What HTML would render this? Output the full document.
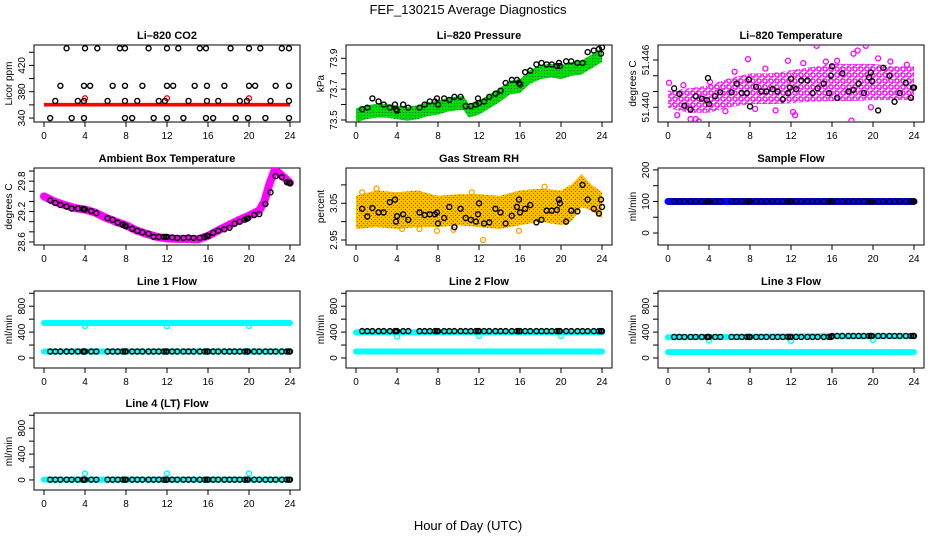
<!DOCTYPE html>
<html><head><meta charset="utf-8"><style>
html,body{margin:0;padding:0;background:#fff}
svg{display:block;font-family:"Liberation Sans",sans-serif}
</style></head><body>
<svg id="c" width="936" height="540" viewBox="0 0 936 540" xmlns="http://www.w3.org/2000/svg">
<defs>
<pattern id="pGreen" width="3" height="3" patternUnits="userSpaceOnUse"><rect width="3" height="3" fill="#00dd00"/><rect x="1" y="1" width="1" height="1" fill="#064"/></pattern>
<pattern id="pMag" width="6" height="6" patternUnits="userSpaceOnUse"><circle cx="3" cy="3" r="2" fill="none" stroke="#ff00ff" stroke-width="1.3"/><circle cx="0" cy="0" r="2" fill="none" stroke="#ff00ff" stroke-width="1.3"/><circle cx="6" cy="6" r="2" fill="none" stroke="#ff00ff" stroke-width="1.3"/></pattern>
<pattern id="pRH" width="4" height="4" patternUnits="userSpaceOnUse"><rect width="4" height="4" fill="#ffc000"/><rect x="1" y="1" width="1" height="1" fill="#ff2000"/><rect x="3" y="3" width="1" height="1" fill="#ff2000"/></pattern>
</defs>
<text x="468" y="14" text-anchor="middle" font-size="13">FEF_130215  Average Diagnostics</text>
<text x="468" y="530" text-anchor="middle" font-size="13">Hour of Day (UTC)</text>
</svg>
<script>
// ---- shared data ----
const blackHours=[0.6,1.1,1.6,2.2,2.7,3.3,3.8,3.9,4.0,4.6,5.1,6.2,6.7,7.2,7.7,7.9,8.0,8.6,9.1,9.6,10.2,10.7,11.2,11.7,11.9,12.0,12.5,13.0,13.6,14.1,14.6,15.2,15.7,15.9,16.0,16.5,17.0,17.6,18.1,18.6,19.1,19.6,19.8,19.9,20.5,21.0,21.6,22.1,22.6,23.2,23.7,23.9,24.0];
const xTicks=[0,4,8,12,16,20,24];
// CO2
const co2BlackHours=[2.2,4.0,5.2,7.4,7.9,10.2,12.0,13.1,15.2,15.8,18.2,20.0,21.1,23.2,23.9, 1.6,3.9,4.5,6.7,7.9,9.6,12.0,12.6,14.7,15.9,17.6,20.0,20.6,22.6,23.9, 1.1,3.3,3.9,6.2,7.9,9.1,11.2,11.8,14.1,15.9,17.0,19.1,19.8,22.1,23.9, 0.6,2.7,3.9,7.9,8.6,10.7,12.0,13.6,15.8,16.5,18.7,19.9,21.6,23.9];
const co2BlackValues=[446,446,446,446,446,446,446,446,446,446,446,446,446,446,446, 389,389,389,389,389,389,389,389,389,389,389,389,389,389,389, 366,366,366,366,366,366,366,366,366,366,366,366,366,366,366, 340,340,340,340,340,340,340,340,340,340,340,340,340,340];
const co2BandHours=[0,24];
const co2BandLow=[357.5,357.5];
const co2BandHigh=[363,363];
const co2RedHours=[4,12,20];
const co2RedValues=[370,370,370];
// Pressure
const presBandHours=[0,1,2,3,4,5,6,7,8,9,10,10.5,11,12,13,14,15,16,17,18,19,20,21,22,23,24];
const presBandCenter=[73.53,73.55,73.56,73.56,73.55,73.54,73.55,73.57,73.58,73.6,73.61,73.61,73.56,73.58,73.62,73.66,73.71,73.72,73.78,73.81,73.82,73.81,73.83,73.84,73.88,73.92];
const presBlack=[73.57,73.58,73.64,73.62,73.6,73.58,73.6,73.57,73.56,73.6,73.58,73.58,73.6,73.62,73.62,73.64,73.6,73.64,73.63,73.65,73.65,73.59,73.59,73.6,73.64,73.61,73.62,73.65,73.67,73.69,73.74,73.76,73.76,73.74,73.73,73.81,73.82,73.86,73.87,73.86,73.86,73.85,73.87,73.85,73.88,73.88,73.87,73.87,73.94,73.95,73.96,73.93,73.97];
// Li-820 temperature
const ltBandHours=[0,2,4,6,8,10,12,14,16,18,20,22,24];
const ltBandLow=[51.4399,51.4393,51.4393,51.4400,51.4404,51.4404,51.4405,51.4407,51.4408,51.4408,51.4409,51.4409,51.4409];
const ltBandHigh=[51.4421,51.4424,51.4428,51.4437,51.4443,51.4443,51.4447,51.4451,51.4455,51.4455,51.4455,51.4452,51.4452];
const ltOutHours=[0.1,1.5,2.2,3.0,4.1,6.5,7.8,9.5,11.7,12.2,13.2,14.5,15.4,16.5,18.1,18.5,19.3,20.5,21.7,23.3,17.9,2.7,10.5,12.4,0.9,5.6,8.5,19.8];
const ltOutValues=[51.4431,51.4428,51.4385,51.4382,51.4432,51.4445,51.4461,51.4449,51.4459,51.4394,51.4456,51.4478,51.4458,51.4459,51.4468,51.4472,51.4478,51.4462,51.4458,51.4454,51.4383,51.4385,51.4396,51.4390,51.4390,51.4395,51.4398,51.4400];
const ltBlack=[51.4424,51.4417,51.4402,51.4397,51.4414,51.4411,51.4409,51.4437,51.4404,51.4414,51.4419,51.4419,51.4430,51.4418,51.4418,51.4435,51.4401,51.4426,51.4420,51.4420,51.4423,51.4420,51.4410,51.4418,51.4425,51.4436,51.4423,51.4434,51.4434,51.4418,51.4424,51.4430,51.4418,51.4440,51.4452,51.4412,51.4443,51.4420,51.4422,51.4430,51.4418,51.4438,51.4444,51.4433,51.4396,51.4450,51.4440,51.4407,51.4418,51.4431,51.4412,51.4425,51.4425];
// Ambient box temperature
const ambHours=[0,1,2,3,4,5,6,7,8,9,10,11,12,13,14,15,16,17,18,19,20,21,21.5,22,22.5,23,24];
const ambValues=[29.50,29.40,29.33,29.27,29.24,29.18,29.08,29.0,28.93,28.83,28.76,28.70,28.67,28.66,28.66,28.65,28.72,28.83,28.93,29.03,29.12,29.22,29.4,29.75,30.02,29.95,29.77];
const ambBlack=[29.42,29.37,29.33,29.3,29.26,29.26,29.25,29.25,29.24,29.21,29.17,29.07,29.04,28.98,28.94,28.92,28.91,28.86,28.82,28.79,28.76,28.7,28.7,28.7,28.7,28.7,28.69,28.68,28.68,28.69,28.68,28.68,28.7,28.72,28.72,28.78,28.82,28.85,28.88,28.96,29.0,29.04,29.06,29.07,29.13,29.15,29.35,29.58,29.9,29.88,29.78,29.77,29.76];
// Gas stream RH
const rhBandHours=[0,2,4,6,8,10,12,14,16,18,20,21,22,23,24];
const rhBandLow=[2.98,2.985,2.98,2.985,2.985,2.99,2.985,2.98,2.99,3.0,2.99,3.0,3.04,3.03,3.01];
const rhBandHigh=[3.07,3.085,3.08,3.085,3.07,3.075,3.075,3.07,3.085,3.09,3.085,3.1,3.13,3.1,3.08];
const rhBlack=[3.035,3.014,3.037,3.025,3.025,3.053,3.06,3.0,3.015,3.02,3.005,3.025,3.018,3.02,3.02,3.025,2.995,3.01,3.04,2.985,3.035,3.01,3.005,3.0,3.02,3.05,2.995,2.998,3.035,3.025,2.995,3.016,3.04,3.06,3.025,3.035,3.045,2.998,3.005,3.03,3.03,3.032,3.06,3.05,3.0,3.03,3.028,3.1,3.06,3.035,3.022,3.06,3.04];
const rhOutHours=[0.6,2.0,4.5,6.2,7.9,9.5,11.3,12.4,15.9,18.4,20.4];
const rhOutValues=[3.08,3.09,2.98,2.98,2.975,2.978,3.08,2.95,2.975,3.095,3.0];
// Flows
const sampleFlow=100;
const sampleBlack=100;
const l1Cyan=[540,100];
const l1Black=100;
const l2Cyan=[395,100];
const l2Black=415;
const l3CyanHours=[0,16,24];
const l3CyanUpper=[320,335,340];
const l3CyanLower=[90,90,90];
const l3BlackHours=[0,16,24];
const l3BlackVals=[325,335,340];
const l4Cyan=[5];
const l4Black=5;
const dipHours=[4,12,20];
const l1Dips=[495,490,495];
const l2Dips=[330,340,340];
const l3Dips=[270,265,280];
const l4Dips=[100,100,100];

// ---- layout ----
const svg=document.getElementById('c');
const NS='http://www.w3.org/2000/svg';
const COLX=[34,346,658], ROWY=[45,168,291,413], PW=266, PH=77;
function el(tag,attrs,parent){const e=document.createElementNS(NS,tag);for(const k in attrs)e.setAttribute(k,attrs[k]);(parent||svg).appendChild(e);return e;}

function panel(col,row,name,title,ylab,dom,ticks,labels){
  const L=COLX[col],T=ROWY[row];
  const g=el('g',{});
  
  
  const xs=h=>L+10+h*(PW-20)/24;
  const ys=v=>T+PH-(v-dom[0])/(dom[1]-dom[0])*PH;
  const t=el('text',{x:L+PW/2,y:T-6,'text-anchor':'middle','font-size':'11','font-weight':'bold'},g);
  t.textContent=title;
  
  
  const box=el('rect',{x:L,y:T,width:PW,height:PH,fill:'none',stroke:'#000','stroke-width':'1'},g);
  
  
  const xa=el('g',{},g);
  
  
  el('line',{x1:xs(0),x2:xs(24),y1:T+PH,y2:T+PH,stroke:'#000'},xa);
  for(const h of xTicks){
    el('line',{x1:xs(h),x2:xs(h),y1:T+PH,y2:T+PH+5,stroke:'#000'},xa);
    const tl=el('text',{x:xs(h),y:T+PH+17,'text-anchor':'middle','font-size':'10'},xa);
    tl.textContent=h;
    
    
  }
  const ya=el('g',{},g);
  
  
  el('line',{x1:L,x2:L,y1:ys(ticks[0]),y2:ys(ticks[ticks.length-1]),stroke:'#000'},ya);
  ticks.forEach((v,i)=>{
    el('line',{x1:L-5,x2:L,y1:ys(v),y2:ys(v),stroke:'#000'},ya);
    if(labels[i]!==''){
      const yl=el('text',{x:0,y:0,'text-anchor':'middle','font-size':'10',transform:`translate(${L-9},${ys(v)}) rotate(-90)`},ya);
      yl.textContent=labels[i];
      
      
    }
  });
  const yt=el('text',{x:0,y:0,'text-anchor':'middle','font-size':'10',transform:`translate(${L-22},${T+PH/2}) rotate(-90)`},g);
  yt.textContent=ylab;
  
  
  const clip=el('clipPath',{id:'clip'+name},g);
  el('rect',{x:L,y:T,width:PW,height:PH},clip);
  const d=el('g',{'clip-path':`url(#clip${name})`},g);
  
  
  return {xs,ys,g:d};
}
function band(p,hours,low,high,fill,name){
  let pts=hours.map((h,i)=>p.xs(h)+','+p.ys(high[i]));
  for(let i=hours.length-1;i>=0;i--)pts.push(p.xs(hours[i])+','+p.ys(low[i]));
  const e=el('polygon',{points:pts.join(' '),fill:fill},p.g);
  
  
}
function line(p,hours,vals,color,w,name){
  const e=el('polyline',{points:hours.map((h,i)=>p.xs(h)+','+p.ys(vals[i])).join(' '),fill:'none',stroke:color,'stroke-width':w,'stroke-linecap':'round','stroke-linejoin':'round'},p.g);
  
  
}
function pts(p,hours,vals,color,r,sw,name){
  hours.forEach((h,i)=>{
    const e=el('circle',{cx:p.xs(h),cy:p.ys(vals[i]),r:r,fill:'none',stroke:color,'stroke-width':sw},p.g);
    
    
  });
}
const flat=(v,n)=>blackHours.map(()=>v);

// CO2
let p=panel(0,0,'co2','Li\u2013820 CO2','Licor ppm',[334,451],[340,360,380,400,420,440],['340','','380','','420','']);
band(p,co2BandHours,co2BandLow,co2BandHigh,'#ff0000','co2-red-band');
pts(p,co2RedHours,co2RedValues,'#ff0000',2.5,1.3,'co2-red-point');
pts(p,co2BlackHours,co2BlackValues,'#000',2.5,1.4,'co2-black-point');
// Pressure
p=panel(1,0,'pressure','Li\u2013820 Pressure','kPa',[73.487,73.986],[73.5,73.6,73.7,73.8,73.9],['73.5','','73.7','','73.9']);
band(p,presBandHours,presBandCenter.map(v=>v-0.045),presBandCenter.map(v=>v+0.045),'url(#pGreen)','pressure-green-band');
pts(p,blackHours,presBlack,'#000',2.5,1.4,'pressure-black-point');
// Li temp
p=panel(2,0,'li-temp','Li\u2013820 Temperature','degrees C',[51.43813,51.4479],[51.440,51.442,51.444,51.446],['51.440','','','51.446']);
band(p,ltBandHours,ltBandLow,ltBandHigh,'url(#pMag)','li-temp-magenta-cloud');
pts(p,ltOutHours,ltOutValues,'#ff00ff',2.5,1.3,'li-temp-magenta-point');
pts(p,blackHours,ltBlack,'#000',2.5,1.4,'li-temp-black-point');
// Ambient
p=panel(0,1,'ambient','Ambient Box Temperature','degrees C',[28.54,30.06],[28.6,28.8,29.0,29.2,29.4,29.6,29.8,30.0],['28.6','','','29.2','','','29.8','']);
line(p,ambHours,ambValues,'#ff00ff',8,'ambient-magenta-line');
pts(p,blackHours,ambBlack,'#000',2.5,1.4,'ambient-black-point');
// RH
p=panel(1,1,'rh','Gas Stream RH','percent',[2.9364,3.146],[2.95,3.0,3.05,3.1],['2.95','','3.05','']);
band(p,rhBandHours,rhBandLow,rhBandHigh,'url(#pRH)','rh-orange-cloud');
pts(p,rhOutHours,rhOutValues,'#ffa000',2.5,1.3,'rh-orange-point');
pts(p,blackHours,rhBlack,'#000',2.5,1.4,'rh-black-point');
// Sample flow
p=panel(2,1,'sample-flow','Sample Flow','ml/min',[-38,206],[0,50,100,150,200],['0','','100','','200']);
line(p,[0,24],[sampleFlow,sampleFlow],'#0000ff',7,'sample-flow-blue-line');
pts(p,blackHours,flat(sampleBlack),'#000',2.5,1.4,'sample-flow-black-point');
// Line flows
const fDom=[-155,1035], fT=[0,200,400,600,800,1000], fL=['0','','400','','800',''];
p=panel(0,2,'line1','Line 1 Flow','ml/min',fDom,fT,fL);
l1Cyan.forEach(v=>line(p,[0,24],[v,v],'#00ffff',6,'line1-cyan-line'));
pts(p,dipHours,l1Dips,'#00ffff',2.5,1.5,'line1-cyan-point');
pts(p,blackHours,flat(l1Black),'#000',2.5,1.4,'line1-black-point');
p=panel(1,2,'line2','Line 2 Flow','ml/min',fDom,fT,fL);
l2Cyan.forEach(v=>line(p,[0,24],[v,v],'#00ffff',6,'line2-cyan-line'));
pts(p,dipHours,l2Dips,'#00ffff',2.5,1.5,'line2-cyan-point');
pts(p,blackHours,flat(l2Black),'#000',2.5,1.4,'line2-black-point');
p=panel(2,2,'line3','Line 3 Flow','ml/min',fDom,fT,fL);
line(p,l3CyanHours,l3CyanUpper,'#00ffff',6,'line3-cyan-line');
line(p,l3CyanHours,l3CyanLower,'#00ffff',6,'line3-cyan-line');
pts(p,dipHours,l3Dips,'#00ffff',2.5,1.5,'line3-cyan-point');
pts(p,blackHours,blackHours.map(h=>h<16?l3BlackVals[0]:l3BlackVals[2]),'#000',2.5,1.4,'line3-black-point');
p=panel(0,3,'line4','Line 4 (LT) Flow','ml/min',fDom,fT,fL);
l4Cyan.forEach(v=>line(p,[0,24],[v,v],'#00ffff',6,'line4-cyan-line'));
pts(p,dipHours,l4Dips,'#00ffff',2.5,1.5,'line4-cyan-point');
pts(p,blackHours,flat(l4Black),'#000',2.5,1.4,'line4-black-point');
</script>
</body></html>
